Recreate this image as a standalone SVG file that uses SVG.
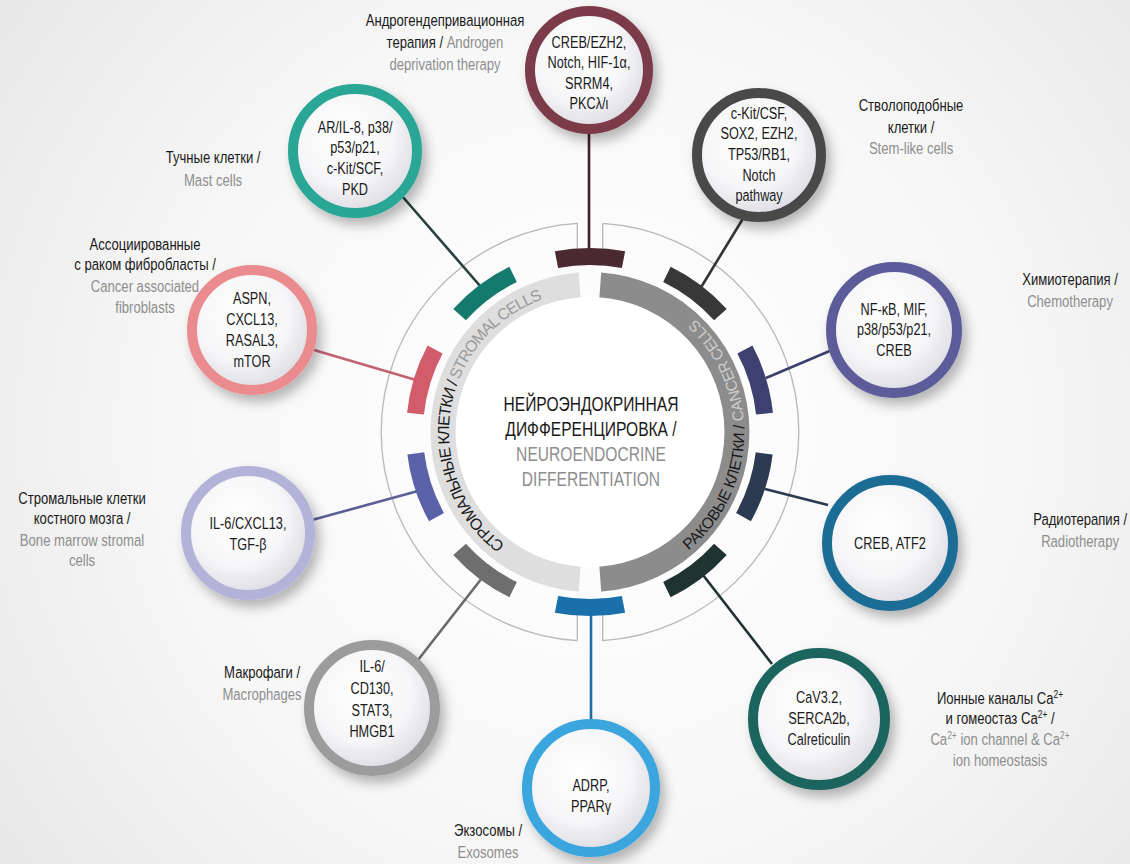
<svg xmlns="http://www.w3.org/2000/svg" width="1130" height="864" viewBox="0 0 1130 864">
<defs>
<radialGradient id="bg" cx="590" cy="432" r="760" gradientUnits="userSpaceOnUse">
<stop offset="0" stop-color="#ffffff"/><stop offset="0.55" stop-color="#f7f7f7"/><stop offset="1" stop-color="#e6e6e6"/>
</radialGradient>
<radialGradient id="inner" cx="0.42" cy="0.38" r="0.65">
<stop offset="0" stop-color="#ffffff"/><stop offset="0.6" stop-color="#f6f6f8"/><stop offset="1" stop-color="#d9d9e0"/>
</radialGradient>
<filter id="shadow" x="-30%" y="-30%" width="170%" height="170%">
<feDropShadow dx="5" dy="7" stdDeviation="6" flood-color="#000" flood-opacity="0.28"/>
</filter>
<path id="arcL" d="M541.8,564.5 A141,141 0 0 1 585.1,291.1"/>
<path id="arcR" d="M616.7,583.7 A154,154 0 0 0 616.7,280.3"/>
</defs>
<style>
text{font-family:"Liberation Sans",Arial,sans-serif;fill:#1a1a1a}
.lbl,.nt,.ctr{text-anchor:middle;transform-box:fill-box;transform-origin:center;transform:scaleX(0.77)}
.lbl{font-size:17px}
.nt{font-size:16.5px}
.ctr{font-size:19.5px;transform:scaleX(0.8)}
.en{fill:#8e8e8e}
.arct{font-size:16px;letter-spacing:-1px}
.arcr{font-size:15.5px;letter-spacing:-0.3px}
.ring{fill:url(#inner);stroke-width:10;filter:url(#shadow)}
.con{fill:none;stroke-width:2.6}
.seg{fill:none;stroke-width:17}
.thin{fill:none;stroke:#b8b8b8;stroke-width:1.3}
</style>
<rect width="1130" height="864" fill="url(#bg)"/>

<g id="hub">
<circle cx="590" cy="432" r="135" fill="#ffffff"/>
<path d="M579.7,579.1 A147.5,147.5 0 0 1 579.7,284.9" fill="none" stroke="#dedede" stroke-width="25"/>
<path d="M600.3,284.9 A147.5,147.5 0 0 1 600.3,579.1" fill="none" stroke="#8c8c8c" stroke-width="25"/>
<path class="thin" d="M577.24,640.6 A209,209 0 0 1 577.24,223.4 V250 M577.24,640.6 V614"/>
<path class="thin" d="M602.76,223.4 A209,209 0 0 1 602.76,640.6 V614 M602.76,223.4 V250"/>
<text class="arct"><textPath href="#arcL" startOffset="42">СТРОМАЛЬНЫЕ КЛЕТКИ / <tspan fill="#9a9a9a">STROMAL CELLS</tspan></textPath></text>
<text class="arcr"><textPath href="#arcR" startOffset="80">РАКОВЫЕ КЛЕТКИ / <tspan fill="#cccccc">CANCER CELLS</tspan></textPath></text>
<text class="ctr" x="591" y="411">НЕЙРОЭНДОКРИННАЯ</text>
<text class="ctr" x="591" y="436">ДИФФЕРЕНЦИРОВКА /</text>
<text class="ctr en" x="591" y="461">NEUROENDOCRINE</text>
<text class="ctr en" x="591" y="486">DIFFERENTIATION</text>
</g>

<g id="connectors">
<path class="con" stroke="#3e2228" d="M589,128 V252"/>
<path class="con" stroke="#333333" d="M747,212 L700,289"/>
<path class="con" stroke="#3b3f6e" d="M766,378 L832,350"/>
<path class="con" stroke="#2c3a50" d="M765,489 L828,505"/>
<path class="con" stroke="#1f3432" d="M703,575 L772,664"/>
<path class="con" stroke="#1d6fa3" d="M591,614 V724"/>
<path class="con" stroke="#6a6a6a" d="M482,578 L418,660"/>
<path class="con" stroke="#5a5f96" d="M418,491 L312,520"/>
<path class="con" stroke="#c46272" d="M416,380 L314,350"/>
<path class="con" stroke="#28403e" d="M481,287 L402,196"/>
</g>

<g id="segments">
<path class="seg" stroke="#4a2a30" d="M556.5,259.7 A175.5,175.5 0 0 1 623.5,259.7"/>
<path class="seg" stroke="#383838" d="M666.9,274.3 A175.5,175.5 0 0 1 720.4,314.6"/>
<path class="seg" stroke="#3d4170" d="M744.9,349.6 A175.5,175.5 0 0 1 764.5,413.7"/>
<path class="seg" stroke="#2d3b52" d="M764.2,453.4 A175.5,175.5 0 0 1 743.5,517.1"/>
<path class="seg" stroke="#1f3331" d="M720.4,549.4 A175.5,175.5 0 0 1 666.9,589.7"/>
<path class="seg" stroke="#1a70aa" d="M623.5,604.3 A175.5,175.5 0 0 1 556.5,604.3"/>
<path class="seg" stroke="#6e6e6e" d="M513.1,589.7 A175.5,175.5 0 0 1 459.6,549.4"/>
<path class="seg" stroke="#5a61a8" d="M436.5,517.1 A175.5,175.5 0 0 1 415.8,453.4"/>
<path class="seg" stroke="#d35c6a" d="M415.5,413.7 A175.5,175.5 0 0 1 435.1,349.6"/>
<path class="seg" stroke="#147a6e" d="M459.6,314.6 A175.5,175.5 0 0 1 513.1,274.3"/>
</g>

<g id="node-adt">
<circle class="ring" cx="589" cy="70" r="59" stroke="#7c3b4a"/>
<text class="nt" x="589" y="48">CREB/EZH2,</text>
<text class="nt" x="589" y="68.5">Notch, HIF-1α,</text>
<text class="nt" x="589" y="89">SRRM4,</text>
<text class="nt" x="589" y="109.5">PKCλ/ι</text>
<text class="lbl" x="445" y="26">Андрогендепривационная</text>
<text class="lbl" x="445" y="48">терапия / <tspan class="en">Androgen</tspan></text>
<text class="lbl en" x="445" y="70">deprivation therapy</text>
</g>

<g id="node-stem">
<circle class="ring" cx="759" cy="155" r="62" stroke="#4a4a4a"/>
<text class="nt" x="759" y="119">c-Kit/CSF,</text>
<text class="nt" x="759" y="139">SOX2, EZH2,</text>
<text class="nt" x="759" y="160">TP53/RB1,</text>
<text class="nt" x="759" y="181">Notch</text>
<text class="nt" x="759" y="201">pathway</text>
<text class="lbl" x="911" y="111">Стволоподобные</text>
<text class="lbl" x="911" y="133">клетки /</text>
<text class="lbl en" x="911" y="154">Stem-like cells</text>
</g>

<g id="node-chemo">
<circle class="ring" cx="894" cy="330" r="63" stroke="#5b5c9a"/>
<text class="nt" x="894" y="315">NF-κB, MIF,</text>
<text class="nt" x="894" y="335">p38/p53/p21,</text>
<text class="nt" x="894" y="356">CREB</text>
<text class="lbl" x="1070" y="285">Химиотерапия /</text>
<text class="lbl en" x="1070" y="307">Chemotherapy</text>
</g>

<g id="node-radio">
<circle class="ring" cx="890" cy="543" r="63" stroke="#1f6d95"/>
<text class="nt" x="890" y="549">CREB, ATF2</text>
<text class="lbl" x="1080" y="525">Радиотерапия /</text>
<text class="lbl en" x="1080" y="547">Radiotherapy</text>
</g>

<g id="node-ca">
<circle class="ring" cx="819" cy="719" r="66" stroke="#1f655f"/>
<text class="nt" x="819" y="703">CaV3.2,</text>
<text class="nt" x="819" y="724">SERCA2b,</text>
<text class="nt" x="819" y="745">Calreticulin</text>
<text class="lbl" x="1000" y="704">Ионные каналы Ca<tspan dy="-6" font-size="11">2+</tspan></text>
<text class="lbl" x="1000" y="724">и гомеостаз Ca<tspan dy="-6" font-size="11">2+</tspan><tspan dy="6"> /</tspan></text>
<text class="lbl en" x="1000" y="745">Ca<tspan dy="-6" font-size="11">2+</tspan><tspan dy="6"> ion channel &amp; Ca</tspan><tspan dy="-6" font-size="11">2+</tspan></text>
<text class="lbl en" x="1000" y="766">ion homeostasis</text>
</g>

<g id="node-exo">
<circle class="ring" cx="591" cy="788" r="64" stroke="#3aa5de"/>
<text class="nt" x="591" y="791">ADRP,</text>
<text class="nt" x="591" y="812">PPARγ</text>
<text class="lbl" x="488" y="836">Экзосомы /</text>
<text class="lbl en" x="488" y="858">Exosomes</text>
</g>

<g id="node-macro">
<circle class="ring" cx="372" cy="708" r="63" stroke="#9c9c9c"/>
<text class="nt" x="372" y="672">IL-6/</text>
<text class="nt" x="372" y="694">CD130,</text>
<text class="nt" x="372" y="716">STAT3,</text>
<text class="nt" x="372" y="737">HMGB1</text>
<text class="lbl" x="262" y="678">Макрофаги /</text>
<text class="lbl en" x="262" y="700">Macrophages</text>
</g>

<g id="node-bone">
<circle class="ring" cx="248" cy="533" r="62" stroke="#b3b3d9"/>
<text class="nt" x="248" y="529">IL-6/CXCL13,</text>
<text class="nt" x="248" y="550">TGF-β</text>
<text class="lbl" x="82" y="504">Стромальные клетки</text>
<text class="lbl" x="82" y="524">костного мозга /</text>
<text class="lbl en" x="82" y="546">Bone marrow stromal</text>
<text class="lbl en" x="82" y="566">cells</text>
</g>

<g id="node-caf">
<circle class="ring" cx="252" cy="330" r="60" stroke="#e98b8f"/>
<text class="nt" x="252" y="304">ASPN,</text>
<text class="nt" x="252" y="325">CXCL13,</text>
<text class="nt" x="252" y="346">RASAL3,</text>
<text class="nt" x="252" y="367">mTOR</text>
<text class="lbl" x="145" y="250">Ассоциированные</text>
<text class="lbl" x="145" y="270">с раком фибробласты /</text>
<text class="lbl en" x="145" y="292">Cancer associated</text>
<text class="lbl en" x="145" y="313">fibroblasts</text>
</g>

<g id="node-mast">
<circle class="ring" cx="355" cy="151" r="62" stroke="#2aa696"/>
<text class="nt" x="355" y="133">AR/IL-8, p38/</text>
<text class="nt" x="355" y="153">p53/p21,</text>
<text class="nt" x="355" y="174">c-Kit/SCF,</text>
<text class="nt" x="355" y="195">PKD</text>
<text class="lbl" x="213" y="163">Тучные клетки /</text>
<text class="lbl en" x="213" y="186">Mast cells</text>
</g>
</svg>
